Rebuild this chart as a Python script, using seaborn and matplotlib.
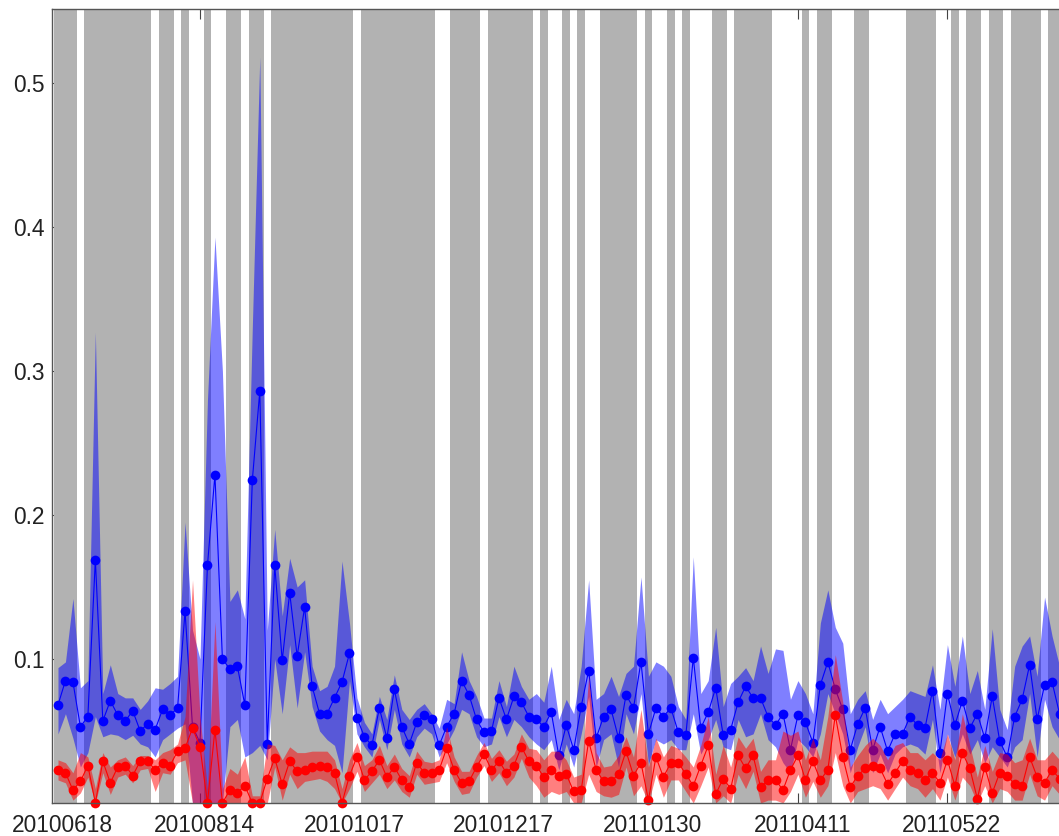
import numpy as np
import seaborn as sns
import matplotlib.pyplot as plt
import matplotlib.transforms as mtransforms

# sample index -> 1..135 (only the visible part of the series)
blue_mean = [0.068, 0.085, 0.084, 0.053, 0.060, 0.169, 0.057, 0.071, 0.061, 0.057,
             0.064, 0.050, 0.055, 0.051, 0.065, 0.061, 0.066, 0.133, 0.053, 0.042,
             0.165, 0.228, 0.100, 0.093, 0.095, 0.068, 0.224, 0.286, 0.041, 0.165,
             0.099, 0.146, 0.102, 0.136, 0.081, 0.062, 0.062, 0.073, 0.084, 0.104,
             0.059, 0.046, 0.040, 0.066, 0.045, 0.079, 0.053, 0.041, 0.056, 0.061,
             0.058, 0.040, 0.053, 0.062, 0.085, 0.075, 0.058, 0.049, 0.050, 0.073,
             0.058, 0.074, 0.070, 0.060, 0.058, 0.053, 0.063, 0.033, 0.054, 0.037,
             0.067, 0.092, 0.045, 0.060, 0.065, 0.045, 0.075, 0.066, 0.098, 0.048,
             0.066, 0.060, 0.066, 0.049, 0.047, 0.101, 0.052, 0.063, 0.080, 0.047,
             0.051, 0.070, 0.081, 0.073, 0.073, 0.060, 0.054, 0.062, 0.037, 0.061,
             0.056, 0.042, 0.082, 0.098, 0.079, 0.065, 0.037, 0.055, 0.066, 0.037,
             0.053, 0.036, 0.048, 0.048, 0.060, 0.054, 0.052, 0.078, 0.035, 0.076,
             0.054, 0.071, 0.052, 0.062, 0.045, 0.074, 0.043, 0.032, 0.060, 0.072,
             0.096, 0.058, 0.082, 0.084, 0.062]
blue_upper = [0.094, 0.098, 0.142, 0.080, 0.085, 0.327, 0.076, 0.096, 0.076, 0.073,
              0.073, 0.065, 0.071, 0.080, 0.079, 0.083, 0.088, 0.195, 0.120, 0.100,
              0.280, 0.393, 0.300, 0.140, 0.148, 0.128, 0.330, 0.518, 0.120, 0.190,
              0.130, 0.170, 0.150, 0.155, 0.095, 0.078, 0.081, 0.095, 0.168, 0.125,
              0.073, 0.056, 0.048, 0.074, 0.058, 0.089, 0.065, 0.058, 0.065, 0.069,
              0.062, 0.052, 0.072, 0.069, 0.105, 0.085, 0.074, 0.059, 0.059, 0.085,
              0.067, 0.095, 0.081, 0.072, 0.076, 0.070, 0.095, 0.058, 0.072, 0.062,
              0.095, 0.155, 0.072, 0.076, 0.088, 0.074, 0.090, 0.095, 0.157, 0.088,
              0.098, 0.095, 0.088, 0.067, 0.058, 0.171, 0.076, 0.085, 0.122, 0.067,
              0.083, 0.088, 0.094, 0.085, 0.109, 0.090, 0.107, 0.106, 0.072, 0.085,
              0.076, 0.062, 0.125, 0.148, 0.122, 0.111, 0.062, 0.072, 0.078, 0.058,
              0.072, 0.062, 0.067, 0.072, 0.078, 0.076, 0.074, 0.096, 0.065, 0.110,
              0.081, 0.116, 0.076, 0.092, 0.065, 0.121, 0.065, 0.051, 0.095, 0.109,
              0.116, 0.088, 0.143, 0.116, 0.095]
blue_lower = [0.048, 0.062, 0.045, 0.025, 0.035, 0.060, 0.046, 0.048, 0.047, 0.044,
              0.047, 0.041, 0.039, 0.032, 0.044, 0.048, 0.052, 0.055, 0.000, 0.000,
              0.000, 0.000, 0.000, 0.053, 0.058, 0.032, 0.035, 0.040, 0.030, 0.100,
              0.062, 0.110, 0.066, 0.105, 0.067, 0.050, 0.044, 0.040, 0.021, 0.085,
              0.048, 0.039, 0.032, 0.058, 0.037, 0.065, 0.041, 0.032, 0.046, 0.052,
              0.048, 0.032, 0.041, 0.051, 0.065, 0.062, 0.046, 0.039, 0.041, 0.060,
              0.046, 0.058, 0.053, 0.046, 0.041, 0.037, 0.044, 0.023, 0.041, 0.025,
              0.048, 0.074, 0.025, 0.044, 0.048, 0.025, 0.062, 0.048, 0.076, 0.027,
              0.044, 0.041, 0.044, 0.037, 0.037, 0.062, 0.034, 0.044, 0.058, 0.039,
              0.037, 0.058, 0.046, 0.048, 0.062, 0.044, 0.039, 0.028, 0.021, 0.044,
              0.039, 0.032, 0.048, 0.076, 0.062, 0.048, 0.021, 0.039, 0.053, 0.021,
              0.034, 0.021, 0.034, 0.039, 0.041, 0.039, 0.034, 0.058, 0.021, 0.048,
              0.032, 0.048, 0.034, 0.044, 0.028, 0.039, 0.032, 0.025, 0.039, 0.044,
              0.076, 0.032, 0.072, 0.053, 0.044]

red_mean = [0.023, 0.021, 0.009, 0.015, 0.026, 0.000, 0.029, 0.014, 0.025, 0.026,
            0.019, 0.029, 0.029, 0.023, 0.028, 0.026, 0.036, 0.038, 0.052, 0.039,
            0.000, 0.051, 0.000, 0.009, 0.007, 0.012, 0.000, 0.000, 0.017, 0.031,
            0.013, 0.029, 0.022, 0.023, 0.025, 0.026, 0.025, 0.021, 0.000, 0.019,
            0.032, 0.016, 0.022, 0.030, 0.018, 0.025, 0.016, 0.011, 0.028, 0.021,
            0.021, 0.023, 0.038, 0.023, 0.014, 0.015, 0.025, 0.034, 0.023, 0.029,
            0.021, 0.026, 0.039, 0.029, 0.026, 0.018, 0.023, 0.019, 0.020, 0.008,
            0.009, 0.043, 0.023, 0.015, 0.015, 0.020, 0.036, 0.019, 0.028, 0.002,
            0.032, 0.018, 0.028, 0.028, 0.020, 0.012, 0.026, 0.040, 0.006, 0.017,
            0.010, 0.033, 0.024, 0.033, 0.011, 0.016, 0.016, 0.009, 0.023, 0.033,
            0.016, 0.029, 0.016, 0.023, 0.061, 0.032, 0.011, 0.019, 0.024, 0.026,
            0.024, 0.013, 0.021, 0.029, 0.023, 0.021, 0.016, 0.021, 0.014, 0.030,
            0.012, 0.035, 0.024, 0.003, 0.025, 0.007, 0.021, 0.019, 0.013, 0.012,
            0.032, 0.018, 0.014, 0.023, 0.017]
red_upper = [0.030, 0.028, 0.021, 0.035, 0.032, 0.010, 0.035, 0.025, 0.030, 0.032,
             0.026, 0.033, 0.033, 0.030, 0.035, 0.037, 0.041, 0.060, 0.155, 0.060,
             0.010, 0.126, 0.010, 0.024, 0.020, 0.032, 0.005, 0.005, 0.041, 0.040,
             0.030, 0.039, 0.035, 0.035, 0.036, 0.036, 0.036, 0.030, 0.010, 0.030,
             0.042, 0.026, 0.030, 0.040, 0.026, 0.034, 0.024, 0.019, 0.036, 0.029,
             0.028, 0.030, 0.053, 0.032, 0.022, 0.022, 0.033, 0.042, 0.031, 0.037,
             0.029, 0.034, 0.048, 0.038, 0.037, 0.030, 0.036, 0.036, 0.030, 0.018,
             0.020, 0.088, 0.035, 0.025, 0.026, 0.033, 0.046, 0.032, 0.065, 0.025,
             0.045, 0.032, 0.040, 0.038, 0.032, 0.025, 0.040, 0.060, 0.020, 0.040,
             0.025, 0.046, 0.038, 0.045, 0.022, 0.030, 0.030, 0.050, 0.047, 0.050,
             0.030, 0.045, 0.030, 0.060, 0.103, 0.070, 0.025, 0.033, 0.040, 0.045,
             0.040, 0.030, 0.040, 0.042, 0.035, 0.035, 0.030, 0.035, 0.030, 0.048,
             0.030, 0.062, 0.040, 0.018, 0.040, 0.022, 0.035, 0.034, 0.028, 0.030,
             0.045, 0.030, 0.030, 0.036, 0.030]
red_lower = [0.016, 0.014, 0.002, 0.007, 0.018, 0.000, 0.021, 0.006, 0.018, 0.020,
             0.014, 0.023, 0.024, 0.008, 0.021, 0.020, 0.028, 0.030, 0.000, 0.000,
             0.000, 0.000, 0.000, 0.000, 0.000, 0.000, 0.000, 0.000, 0.000, 0.025,
             0.002, 0.020, 0.010, 0.015, 0.016, 0.017, 0.015, 0.010, 0.000, 0.010,
             0.022, 0.008, 0.014, 0.020, 0.010, 0.016, 0.008, 0.004, 0.020, 0.013,
             0.014, 0.015, 0.028, 0.015, 0.006, 0.007, 0.018, 0.026, 0.015, 0.021,
             0.012, 0.018, 0.031, 0.018, 0.012, 0.004, 0.008, 0.006, 0.008, 0.000,
             0.000, 0.020, 0.008, 0.005, 0.004, 0.006, 0.025, 0.005, 0.012, 0.000,
             0.020, 0.004, 0.016, 0.016, 0.008, 0.000, 0.012, 0.025, 0.000, 0.005,
             0.000, 0.020, 0.010, 0.022, 0.000, 0.002, 0.002, 0.000, 0.008, 0.020,
             0.004, 0.015, 0.004, 0.012, 0.035, 0.012, 0.000, 0.008, 0.010, 0.012,
             0.010, 0.002, 0.010, 0.018, 0.012, 0.010, 0.004, 0.010, 0.002, 0.018,
             0.002, 0.018, 0.012, 0.000, 0.012, 0.000, 0.010, 0.008, 0.002, 0.002,
             0.020, 0.005, 0.002, 0.012, 0.006]

# 1 = shaded (gray) sample, 0 = white
regime = [1, 1, 1, 0, 1, 1, 1, 1, 1, 1,
          1, 1, 1, 0, 1, 1, 0, 1, 0, 0,
          1, 0, 0, 1, 1, 0, 1, 1, 0, 1,
          1, 1, 1, 1, 1, 1, 1, 1, 1, 1,
          0, 1, 1, 1, 1, 1, 1, 1, 1, 1,
          1, 0, 0, 1, 1, 1, 1, 0, 1, 1,
          1, 1, 1, 1, 0, 1, 0, 0, 1, 0,
          1, 0, 0, 1, 1, 1, 1, 1, 0, 1,
          0, 0, 1, 0, 1, 0, 0, 0, 1, 1,
          0, 1, 1, 1, 1, 1, 0, 0, 0, 0,
          1, 0, 1, 1, 0, 0, 0, 1, 1, 0,
          0, 0, 0, 0, 1, 1, 1, 1, 0, 0,
          1, 0, 1, 1, 0, 1, 1, 0, 1, 1,
          1, 1, 0, 1, 1]

tick_pos = [1, 20, 40, 60, 80, 100, 120]
tick_labels = ["20100618", "20100814", "20101017", "20101217",
               "20110130", "20110411", "20110522"]

ymax = 0.5514
idx = np.arange(1, len(blue_mean) + 1)

plt.rcParams["font.family"] = ["Liberation Sans", "DejaVu Sans"]

fig = plt.figure(figsize=(10.59, 8.36), dpi=100)
ax = fig.add_axes([52 / 1059, 1 - 803 / 836, 1 - 52 / 1059, (803 - 9) / 836])

# background regime bars
shade = np.array(regime) == 1
ax.bar(idx[shade], ymax, width=1.0, bottom=0, color="#b2b2b2", linewidth=0, zorder=1)

# blue series
ax.fill_between(idx, blue_lower, blue_upper, color="blue", alpha=0.5, linewidth=0, zorder=2)
sns.lineplot(x=idx, y=blue_mean, ax=ax, color="blue", marker="o", markersize=7,
             markeredgewidth=0, linewidth=0.8, estimator=None, zorder=3)

# red series
ax.fill_between(idx, red_lower, red_upper, color="red", alpha=0.5, linewidth=0, zorder=4)
sns.lineplot(x=idx, y=red_mean, ax=ax, color="red", marker="o", markersize=7,
             markeredgewidth=0, linewidth=0.8, estimator=None, zorder=5)

for ln in ax.lines:
    ln.set_clip_on(False)

ax.set_xlim(0.2, 134.93)
ax.set_ylim(0, ymax)
ax.set_axisbelow(True)

ax.set_xticks(tick_pos)
ax.set_xticklabels(tick_labels)
ax.set_yticks([0.1, 0.2, 0.3, 0.4, 0.5])
ax.set_yticklabels(["0.1", "0.2", "0.3", "0.4", "0.5"])
ax.tick_params(axis="both", direction="in", length=7.5, width=0.8, color="#444444",
               labelsize=16.4, labelcolor="#222222")
ax.tick_params(axis="x", top=True, pad=8)
ax.tick_params(axis="y", pad=5)

offset = mtransforms.ScaledTranslation(4.5 / 100, 0, fig.dpi_scale_trans)
for lbl in ax.get_xticklabels():
    lbl.set_transform(lbl.get_transform() + offset)

ax.spines["right"].set_visible(False)
for side in ["left", "top", "bottom"]:
    ax.spines[side].set_color("#555555")
    ax.spines[side].set_linewidth(1.0)
    ax.spines[side].set_zorder(6)

ax.set_xlabel("")
ax.set_ylabel("")

fig.savefig("out.png", dpi=100)
